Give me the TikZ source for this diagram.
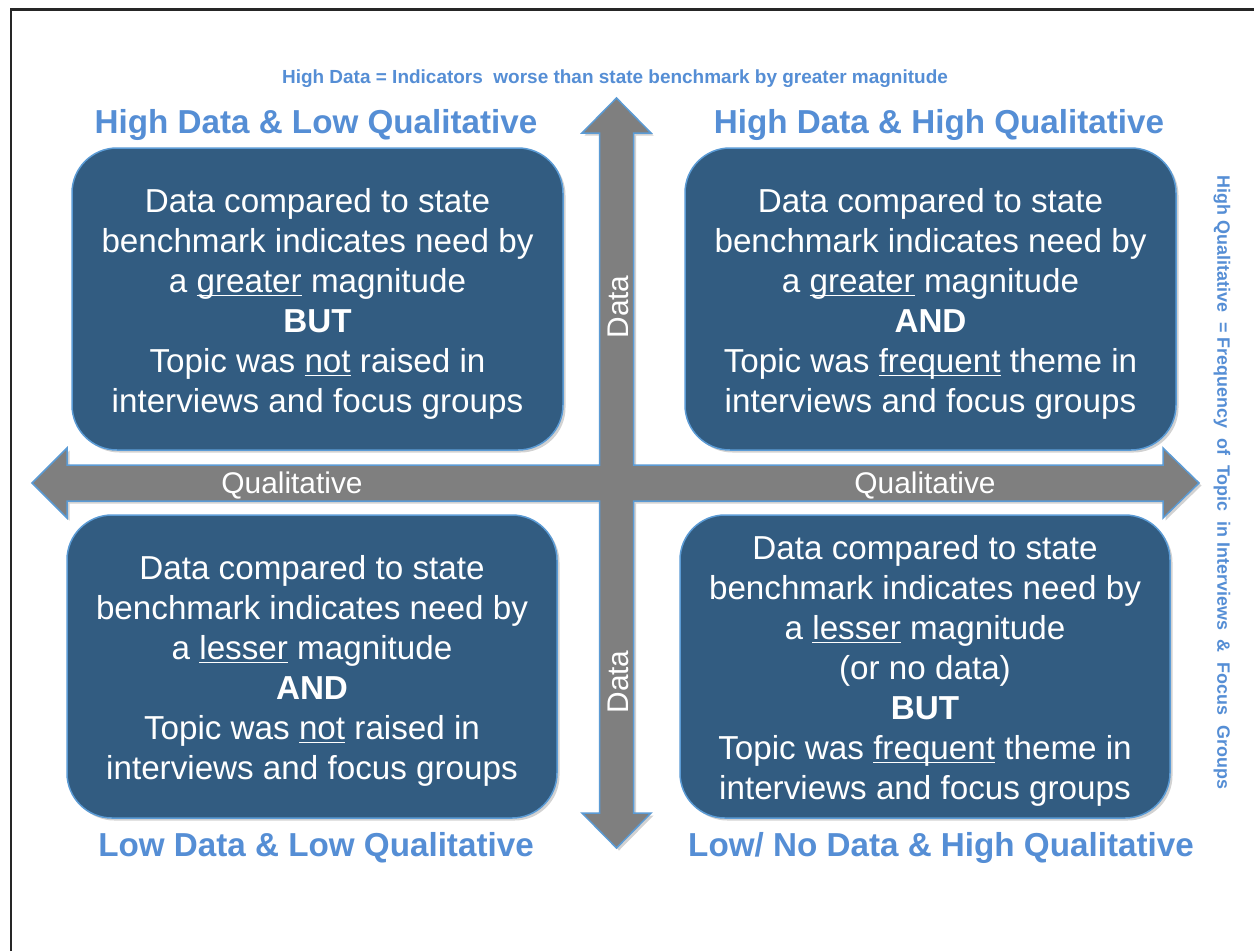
\documentclass[tikz,border=0pt]{standalone}
\usepackage{fontspec}
\setmainfont{Liberation Sans}
\usetikzlibrary{shadows}
\definecolor{boxblue}{HTML}{325C81}
\definecolor{lblue}{HTML}{558ED5}
\definecolor{edgeblue}{HTML}{5B9BD5}
\definecolor{arrowgray}{HTML}{7F7F7F}
\definecolor{framegray}{HTML}{262626}
\newcommand\ulword[1]{\underline{\smash{#1}}}
\tikzset{
  quadbox/.style={fill=boxblue, draw=edgeblue, line width=0.03cm, rounded corners=0.9cm,
    drop shadow={opacity=0.35, shadow xshift=0.05cm, shadow yshift=-0.05cm}},
  boxtext/.style={text=white, align=center, font=\fontsize{18.9}{22.76}\selectfont},
  heading/.style={text=lblue, font=\bfseries\fontsize{18.9}{22}\selectfont},
  axislabel/.style={text=white, font=\fontsize{17}{20}\selectfont},
  note/.style={text=lblue, font=\bfseries\fontsize{10.8}{12}\selectfont},
  sidenote/.style={text=lblue, font=\bfseries\fontsize{10.2}{12}\selectfont},
}
\begin{document}
\begin{tikzpicture}[x=0.02cm,y=-0.02cm]
\useasboundingbox (0,0) rectangle (1254,951);
\fill[white] (0,0) rectangle (1254,951);
% frame
\draw[framegray, line width=0.06cm] (11,951) -- (11,9) -- (1254,9);
% cross arrows
\draw[fill=arrowgray, draw=edgeblue, line width=0.03cm, line join=miter,
  drop shadow={opacity=0.35, shadow xshift=0.05cm, shadow yshift=-0.05cm}]
  (616.5,98) -- (651,133) -- (633.5,133) -- (633.5,465) -- (1163,465) -- (1163,448)
  -- (1199,483) -- (1163,518) -- (1163,501) -- (633.5,501) -- (633.5,813) -- (651,813)
  -- (616.5,848) -- (582,813) -- (599.5,813) -- (599.5,501) -- (67,501) -- (67,518)
  -- (32,483) -- (67,448) -- (67,465) -- (599.5,465) -- (599.5,133) -- (582,133) -- cycle;
% boxes
\draw[quadbox] (72,148) rectangle (563,450);
\draw[quadbox] (685,148) rectangle (1176,450);
\draw[quadbox] (67,515) rectangle (557,818);
\draw[quadbox] (680,515) rectangle (1170,818);
% box texts
\node[boxtext] (tl) at (317.5,304) {Data compared to state\\benchmark indicates need by\\a \ulword{greater} magnitude\\\textbf{BUT}\\Topic was \ulword{not} raised in\\interviews and focus groups};
\node[boxtext] (tr) at (930.5,304) {Data compared to state\\benchmark indicates need by\\a \ulword{greater} magnitude\\\textbf{AND}\\Topic was \ulword{frequent} theme in\\interviews and focus groups};
\node[boxtext] (bl) at (312,671) {Data compared to state\\benchmark indicates need by\\a \ulword{lesser} magnitude\\\textbf{AND}\\Topic was \ulword{not} raised in\\interviews and focus groups};
\node[boxtext] (br) at (925,671) {Data compared to state\\benchmark indicates need by\\a \ulword{lesser} magnitude\\(or no data)\\\textbf{BUT}\\Topic was \ulword{frequent} theme in\\interviews and focus groups};
% headings
\node[heading] (htl) at (316,125) {High Data \& Low Qualitative};
\node[heading] (htr) at (939,125) {High Data \& High Qualitative};
\node[heading] (hbl) at (316,848) {Low Data \& Low Qualitative};
\node[heading] (hbr) at (941,848) {Low/ No Data \& High Qualitative};
% axis labels
\node[axislabel] (ql) at (292,485) {Qualitative};
\node[axislabel] (qr) at (925,485) {Qualitative};
\node[axislabel, rotate=90] (dt) at (618,307) {Data};
\node[axislabel, rotate=90] (db) at (618,682) {Data};
% notes
\node[note] (ntop) at (615,79) {High Data = Indicators\ \ worse\ than\ state\ benchmark\ by\ greater\ magnitude};
\node[sidenote, rotate=-90] (nright) at (1222,482.5) {High Qualitative\ \ =\ Frequency\ \ of\ \ Topic\ \ in\ Interviews\ \ \&\ \ Focus\ \ Groups};
\end{tikzpicture}
\end{document}
